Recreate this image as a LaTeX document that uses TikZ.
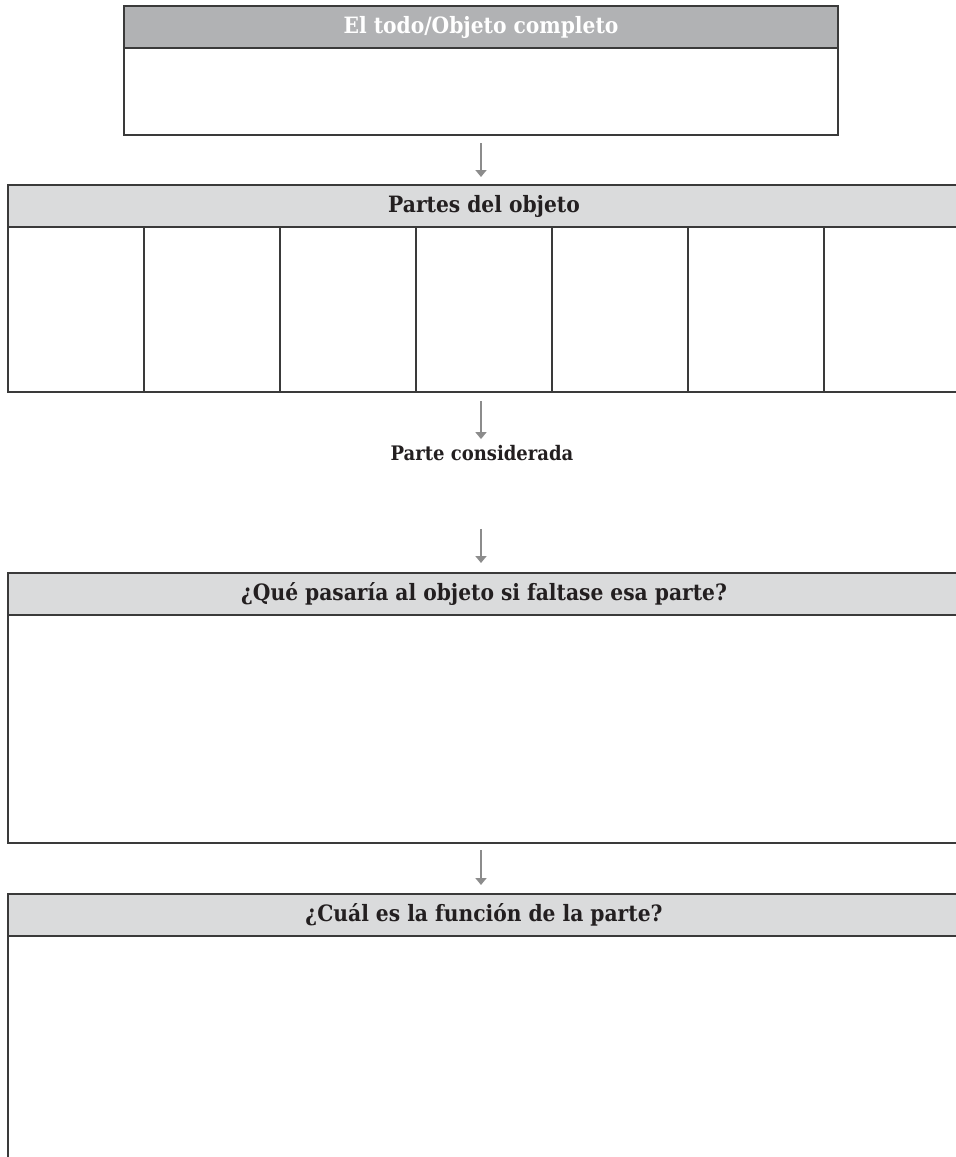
\documentclass[tikz,border=0pt]{standalone}
\usepackage{fontspec}
\setmainfont{DejaVu Serif Condensed}
\usepackage{xcolor}
\usepackage{tikz}
\usetikzlibrary{positioning, arrows.meta}
\definecolor{headdark}{HTML}{B1B2B4}
\definecolor{headlight}{HTML}{DADBDC}
\definecolor{rulegray}{HTML}{3A3A3A}
\definecolor{arrowgray}{HTML}{8C8C8C}
\definecolor{ink}{HTML}{231F20}

\begin{document}
\begin{tikzpicture}[
        x=1pt, y=-1pt,
        node distance=0pt,
        head/.style={draw=rulegray, line width=1.5pt, fill=#1, minimum height=42pt, inner sep=0pt, outer sep=0pt, font=\fontsize{22.5}{26}\selectfont\bfseries, text=ink},
        head/.default=headlight,
        body/.style={draw=rulegray, line width=1.5pt, inner sep=0pt, outer sep=0pt},
        colbox/.style={body, minimum width=136pt, minimum height=165pt},
        arr/.style={draw=arrowgray, line width=2pt, -{Triangle[width=11pt, length=7pt]}},
    ]
    \clip (0,0) rectangle (956,1157);

    % Objeto completo
    \node[head=headdark, text=white, minimum width=714pt, anchor=north west] (todohead) at (124,6) {El todo/Objeto completo};
    \node[body, minimum width=714pt, minimum height=87pt, below=of todohead] (todobody) {};

    % Partes del objeto
    \node[head, minimum width=952pt, anchor=north west] (partes) at (8,185) {Partes del objeto};
    \foreach \i in {1,...,7} {
        \node[colbox, anchor=north west] (col\i) at ({8+136*(\i-1)},227) {};
    }

    % Parte considerada
    \node[font=\fontsize{20}{24}\selectfont\bfseries, text=ink, inner sep=0pt] (consid) at (482,453) {Parte considerada};

    % Preguntas
    \node[head, minimum width=952pt, anchor=north west] (falta) at (8,573) {¿Qué pasaría al objeto si faltase esa parte?};
    \node[body, minimum width=952pt, minimum height=228pt, below=of falta] (faltabody) {};
    \node[head, minimum width=952pt, anchor=north west] (funcion) at (8,894) {¿Cuál es la función de la parte?};
    \node[body, minimum width=952pt, minimum height=240pt, below=of funcion] (funcionbody) {};

    % Flow arrows
    \draw[arr, shorten <=8pt, shorten >=8pt] (todobody.south) -- (todobody.south |- partes.north);
    \draw[arr, shorten <=9pt, shorten >=6pt] (todobody.south |- col4.south) -- (todobody.south |- consid.north);
    \draw[arr, shorten <=68pt, shorten >=10pt] (todobody.south |- consid.south) -- (todobody.south |- falta.north);
    \draw[arr, shorten <=7pt, shorten >=9pt] (todobody.south |- faltabody.south) -- (todobody.south |- funcion.north);

\end{tikzpicture}
\end{document}
